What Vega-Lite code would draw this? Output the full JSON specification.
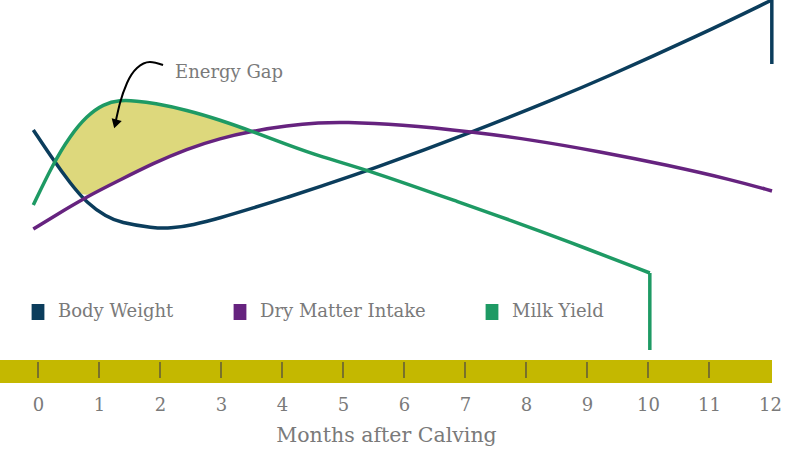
{
  "$schema": "https://vega.github.io/schema/vega-lite/v6.json",
  "width": 772,
  "height": 383,
  "autosize": {"type": "none"},
  "padding": {"left": 0, "top": 0, "right": 22, "bottom": 74},
  "background": "white",
  "config": {
    "view": {"stroke": null},
    "font": "DejaVu Serif"
  },
  "data": {
    "values": [
      {"kind": "curve", "series": "Body Weight", "ord": 1, "month": -0.077, "level": 253},
      {"kind": "curve", "series": "Body Weight", "ord": 2, "month": 0.251, "level": 223},
      {"kind": "curve", "series": "Body Weight", "ord": 3, "month": 0.525, "level": 200},
      {"kind": "curve", "series": "Body Weight", "ord": 4, "month": 0.798, "level": 180},
      {"kind": "curve", "series": "Body Weight", "ord": 5, "month": 1.126, "level": 166},
      {"kind": "curve", "series": "Body Weight", "ord": 6, "month": 1.344, "level": 160.5},
      {"kind": "curve", "series": "Body Weight", "ord": 7, "month": 1.885, "level": 155},
      {"kind": "curve", "series": "Body Weight", "ord": 8, "month": 2.164, "level": 154.5},
      {"kind": "curve", "series": "Body Weight", "ord": 9, "month": 2.541, "level": 158},
      {"kind": "curve", "series": "Body Weight", "ord": 10, "month": 2.984, "level": 165},
      {"kind": "curve", "series": "Body Weight", "ord": 11, "month": 3.525, "level": 175},
      {"kind": "curve", "series": "Body Weight", "ord": 12, "month": 4.082, "level": 185.5},
      {"kind": "curve", "series": "Body Weight", "ord": 13, "month": 4.623, "level": 196.5},
      {"kind": "curve", "series": "Body Weight", "ord": 14, "month": 5.443, "level": 213},
      {"kind": "curve", "series": "Body Weight", "ord": 15, "month": 7.131, "level": 251},
      {"kind": "curve", "series": "Body Weight", "ord": 16, "month": 8.508, "level": 285},
      {"kind": "curve", "series": "Body Weight", "ord": 17, "month": 9.213, "level": 303},
      {"kind": "curve", "series": "Body Weight", "ord": 18, "month": 10.852, "level": 348},
      {"kind": "curve", "series": "Body Weight", "ord": 19, "month": 12.03, "level": 383},
      {"kind": "drop", "series": "Body Weight", "ord": 1, "month": 12.03, "level": 383},
      {"kind": "drop", "series": "Body Weight", "ord": 2, "month": 12.03, "level": 319},
      {"kind": "curve", "series": "Dry Matter Intake", "ord": 1, "month": -0.077, "level": 154},
      {"kind": "curve", "series": "Dry Matter Intake", "ord": 2, "month": 0.251, "level": 166.3},
      {"kind": "curve", "series": "Dry Matter Intake", "ord": 3, "month": 0.798, "level": 186.3},
      {"kind": "curve", "series": "Dry Matter Intake", "ord": 4, "month": 1.344, "level": 203},
      {"kind": "curve", "series": "Dry Matter Intake", "ord": 5, "month": 1.89, "level": 219.7},
      {"kind": "curve", "series": "Dry Matter Intake", "ord": 6, "month": 2.438, "level": 234},
      {"kind": "curve", "series": "Dry Matter Intake", "ord": 7, "month": 2.984, "level": 244.7},
      {"kind": "curve", "series": "Dry Matter Intake", "ord": 8, "month": 3.525, "level": 252},
      {"kind": "curve", "series": "Dry Matter Intake", "ord": 9, "month": 4.077, "level": 257.3},
      {"kind": "curve", "series": "Dry Matter Intake", "ord": 10, "month": 4.623, "level": 260.3},
      {"kind": "curve", "series": "Dry Matter Intake", "ord": 11, "month": 5.0, "level": 261},
      {"kind": "curve", "series": "Dry Matter Intake", "ord": 12, "month": 5.934, "level": 258.5},
      {"kind": "curve", "series": "Dry Matter Intake", "ord": 13, "month": 7.131, "level": 251},
      {"kind": "curve", "series": "Dry Matter Intake", "ord": 14, "month": 8.115, "level": 243},
      {"kind": "curve", "series": "Dry Matter Intake", "ord": 15, "month": 9.213, "level": 231.3},
      {"kind": "curve", "series": "Dry Matter Intake", "ord": 16, "month": 10.311, "level": 218},
      {"kind": "curve", "series": "Dry Matter Intake", "ord": 17, "month": 11.393, "level": 203},
      {"kind": "curve", "series": "Dry Matter Intake", "ord": 18, "month": 12.033, "level": 192},
      {"kind": "curve", "series": "Milk Yield", "ord": 1, "month": -0.077, "level": 178},
      {"kind": "curve", "series": "Milk Yield", "ord": 2, "month": 0.251, "level": 219.7},
      {"kind": "curve", "series": "Milk Yield", "ord": 3, "month": 0.525, "level": 247},
      {"kind": "curve", "series": "Milk Yield", "ord": 4, "month": 0.798, "level": 267},
      {"kind": "curve", "series": "Milk Yield", "ord": 5, "month": 1.07, "level": 279},
      {"kind": "curve", "series": "Milk Yield", "ord": 6, "month": 1.344, "level": 283},
      {"kind": "curve", "series": "Milk Yield", "ord": 7, "month": 1.618, "level": 282},
      {"kind": "curve", "series": "Milk Yield", "ord": 8, "month": 1.89, "level": 280},
      {"kind": "curve", "series": "Milk Yield", "ord": 9, "month": 2.438, "level": 273},
      {"kind": "curve", "series": "Milk Yield", "ord": 10, "month": 2.984, "level": 263},
      {"kind": "curve", "series": "Milk Yield", "ord": 11, "month": 3.525, "level": 251.3},
      {"kind": "curve", "series": "Milk Yield", "ord": 12, "month": 4.077, "level": 238.5},
      {"kind": "curve", "series": "Milk Yield", "ord": 13, "month": 4.623, "level": 226.5},
      {"kind": "curve", "series": "Milk Yield", "ord": 14, "month": 5.443, "level": 212.3},
      {"kind": "curve", "series": "Milk Yield", "ord": 15, "month": 7.033, "level": 178},
      {"kind": "curve", "series": "Milk Yield", "ord": 16, "month": 7.689, "level": 164},
      {"kind": "curve", "series": "Milk Yield", "ord": 17, "month": 8.672, "level": 142},
      {"kind": "curve", "series": "Milk Yield", "ord": 18, "month": 10.03, "level": 110},
      {"kind": "drop", "series": "Milk Yield", "ord": 1, "month": 10.03, "level": 110},
      {"kind": "drop", "series": "Milk Yield", "ord": 2, "month": 10.03, "level": 33},
      {"kind": "gap", "month": 0.236, "level": 221, "level2": 221},
      {"kind": "gap", "month": 0.4, "level": 210.5, "level2": 234.2},
      {"kind": "gap", "month": 0.525, "level": 200, "level2": 246.3},
      {"kind": "gap", "month": 0.741, "level": 184, "level2": 262},
      {"kind": "gap", "month": 1.07, "level": 194.6, "level2": 278},
      {"kind": "gap", "month": 1.344, "level": 203, "level2": 282},
      {"kind": "gap", "month": 1.618, "level": 211.3, "level2": 281.5},
      {"kind": "gap", "month": 1.89, "level": 219.7, "level2": 279.7},
      {"kind": "gap", "month": 2.438, "level": 234, "level2": 273},
      {"kind": "gap", "month": 2.984, "level": 244.7, "level2": 263},
      {"kind": "gap", "month": 3.2, "level": 247.6, "level2": 258.3},
      {"kind": "gap", "month": 3.45, "level": 251, "level2": 251},
      {"kind": "band", "month": -0.623, "month2": 12.033, "level": 0, "level2": 23},
      {"kind": "tick", "month": 0, "level": 5, "level2": 21},
      {"kind": "tick", "month": 1, "level": 5, "level2": 21},
      {"kind": "tick", "month": 2, "level": 5, "level2": 21},
      {"kind": "tick", "month": 3, "level": 5, "level2": 21},
      {"kind": "tick", "month": 4, "level": 5, "level2": 21},
      {"kind": "tick", "month": 5, "level": 5, "level2": 21},
      {"kind": "tick", "month": 6, "level": 5, "level2": 21},
      {"kind": "tick", "month": 7, "level": 5, "level2": 21},
      {"kind": "tick", "month": 8, "level": 5, "level2": 21},
      {"kind": "tick", "month": 9, "level": 5, "level2": 21},
      {"kind": "tick", "month": 10, "level": 5, "level2": 21},
      {"kind": "tick", "month": 11, "level": 5, "level2": 21},
      {"kind": "arrow", "month": 2.05, "level": 318},
      {"kind": "arrow", "month": 1.836, "level": 321},
      {"kind": "arrow", "month": 1.623, "level": 315},
      {"kind": "arrow", "month": 1.459, "level": 300},
      {"kind": "arrow", "month": 1.344, "level": 280},
      {"kind": "arrow", "month": 1.279, "level": 263},
      {"kind": "head", "month": 1.27, "level": 259},
      {"kind": "label", "month": 2.246, "level": 305, "text": "Energy Gap"}
    ]
  },
  "encoding": {
    "x": {
      "field": "month", "type": "quantitative",
      "scale": {"domain": [-0.623, 12.033], "nice": false, "zero": false},
      "axis": {
        "values": [0, 1, 2, 3, 4, 5, 6, 7, 8, 9, 10, 11, 12],
        "format": "d",
        "domain": false, "ticks": false, "grid": false,
        "labelFontSize": 18, "labelColor": "#7a7a7a", "labelPadding": 13,
        "title": "Months after Calving",
        "titleFontSize": 20.5, "titleFontWeight": "normal", "titleColor": "#7a7a7a",
        "titlePadding": 11
      }
    },
    "y": {
      "field": "level", "type": "quantitative",
      "scale": {"domain": [0, 383], "nice": false, "zero": false},
      "axis": null
    }
  },
  "layer": [
    {
      "transform": [{"filter": "datum.kind === 'band'"}],
      "mark": {"type": "rect", "color": "#c4b800"},
      "encoding": {
        "x2": {"field": "month2"},
        "y2": {"field": "level2"}
      }
    },
    {
      "transform": [{"filter": "datum.kind === 'tick'"}],
      "mark": {"type": "rule", "color": "#5f5a3a", "strokeWidth": 1.5},
      "encoding": {
        "y2": {"field": "level2"}
      }
    },
    {
      "transform": [{"filter": "datum.kind === 'gap'"}],
      "mark": {"type": "area", "color": "#ddd87c", "interpolate": "basis", "opacity": 1},
      "encoding": {
        "y2": {"field": "level2"}
      }
    },
    {
      "transform": [{"filter": "datum.kind === 'curve'"}],
      "mark": {"type": "line", "strokeWidth": 3.5, "interpolate": "basis"},
      "encoding": {
        "order": {"field": "ord", "type": "quantitative"},
        "color": {
          "field": "series", "type": "nominal",
          "scale": {
            "domain": ["Body Weight", "Dry Matter Intake", "Milk Yield"],
            "range": ["#0b3d5c", "#66237f", "#1e9a64"]
          },
          "legend": {
            "title": null,
            "orient": "none",
            "legendX": 29,
            "legendY": 303,
            "direction": "horizontal",
            "symbolType": "M-0.8,-1H0.8V1H-0.8Z",
            "symbolSize": 256,
            "symbolStrokeWidth": 0,
            "symbolOpacity": 1,
            "labelFontSize": 18,
            "labelColor": "#7a7a7a",
            "labelOffset": 11,
            "labelLimit": 400,
            "columnPadding": 57,
            "encode": {
              "symbols": {
                "update": {
                  "fill": {"scale": "color", "field": "value"},
                  "fillOpacity": {"value": 1}
                }
              }
            }
          }
        }
      }
    },
    {
      "transform": [{"filter": "datum.kind === 'drop'"}],
      "mark": {"type": "line", "strokeWidth": 3.5, "interpolate": "linear"},
      "encoding": {
        "order": {"field": "ord", "type": "quantitative"},
        "color": {"field": "series", "type": "nominal"}
      }
    },
    {
      "transform": [{"filter": "datum.kind === 'arrow'"}],
      "mark": {"type": "line", "color": "black", "strokeWidth": 2, "interpolate": "monotone"},
      "encoding": {}
    },
    {
      "transform": [{"filter": "datum.kind === 'head'"}],
      "mark": {"type": "point", "shape": "triangle-down", "filled": true, "color": "black", "size": 110, "angle": 16, "opacity": 1},
      "encoding": {}
    },
    {
      "transform": [{"filter": "datum.kind === 'label'"}],
      "mark": {"type": "text", "align": "left", "baseline": "alphabetic", "fontSize": 18, "color": "#7a7a7a"},
      "encoding": {
        "text": {"field": "text"}
      }
    }
  ]
}
